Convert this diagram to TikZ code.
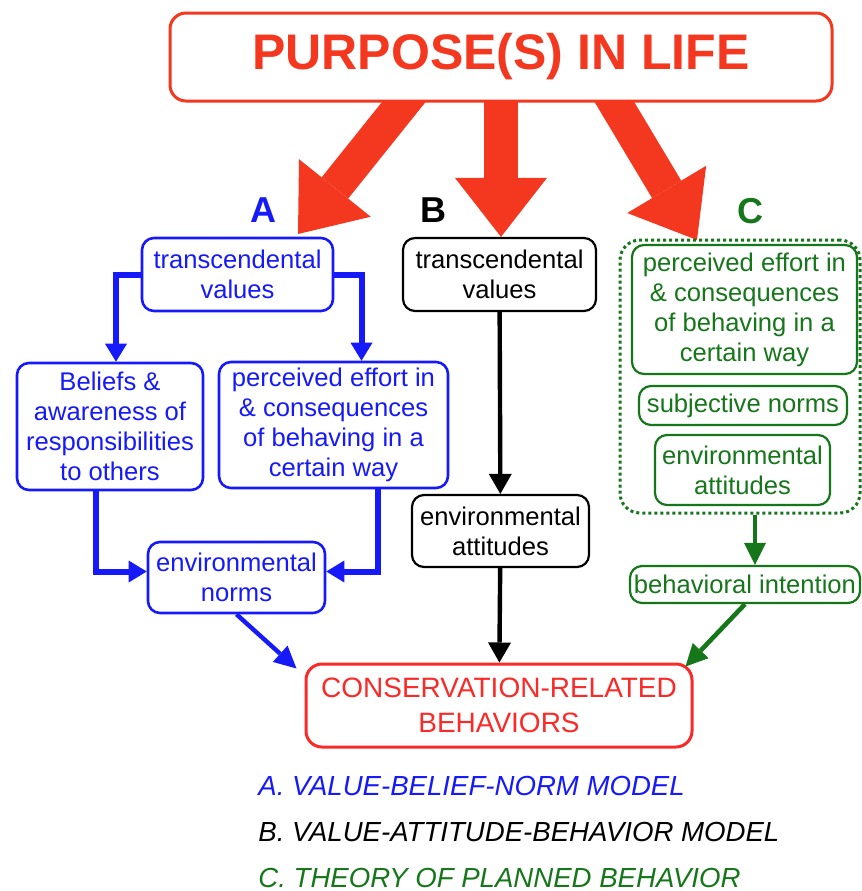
\documentclass[tikz,border=0pt]{standalone}
\usepackage{fontspec}
\setmainfont{Liberation Sans}
\usetikzlibrary{arrows.meta,positioning,backgrounds}
\definecolor{purposered}{RGB}{244,56,32}
\definecolor{consred}{RGB}{250,42,40}
\definecolor{vbnblue}{RGB}{22,26,248}
\definecolor{tpbgreen}{RGB}{22,118,26}

\begin{document}
\begin{tikzpicture}[x=0.5pt,y=-0.5pt,
  box node/.style={rectangle,rounded corners=6pt,draw,fill=white,align=center,inner sep=2pt,font=\fontsize{12.8}{15}\selectfont},
  blue node/.style={box node,draw=vbnblue,text=vbnblue,line width=1.3pt},
  black node/.style={box node,draw=black,text=black,line width=1.1pt},
  green node/.style={box node,draw=tpbgreen,text=tpbgreen,line width=1.1pt},
  red node/.style={box node,draw=consred,text=consred,line width=1.5pt,rounded corners=8pt,font=\fontsize{14}{17.5}\selectfont},
  letter node/.style={inner sep=0pt,font=\fontsize{18}{18}\selectfont\bfseries},
  key node/.style={anchor=west,inner sep=0pt,font=\fontsize{13.8}{14}\selectfont\itshape},
  big arrow/.style={purposered,line width=17pt,-{Triangle[width=46pt,length=29.5pt,line width=0pt]}},
  blue arrow/.style={vbnblue,line width=3pt,-{Triangle[width=11pt,length=9pt,line width=0pt]}},
  thin blue arrow/.style={vbnblue,line width=2.2pt,-{Triangle[width=11pt,length=11pt,line width=0pt]}},
  black arrow/.style={black,line width=2.2pt,-{Triangle[width=11.5pt,length=10pt,line width=0pt]}},
  green arrow/.style={tpbgreen,line width=2.3pt,-{Triangle[width=11pt,length=11pt,line width=0pt]}}]

  \useasboundingbox (0,0) rectangle (862,891);

  % top
  \node[red node,draw=purposered,text=purposered,minimum width=331pt,minimum height=44pt,
        font=\fontsize{25}{25}\selectfont\bfseries] (title) at (501,57) {PURPOSE(S) IN LIFE};
  \node[letter node,text=vbnblue] (la) at (263,210) {A};
  \node[letter node] (lb) at (433,210) {B};
  \node[letter node,text=tpbgreen] (lc) at (750,211) {C};

  % A: value-belief-norm
  \node[blue node,minimum width=95.5pt,minimum height=36.5pt] (ta) at (237.5,274.5) {transcendental\\values};
  \node[blue node,minimum width=93pt,minimum height=63.5pt] (bel) at (110,426.5) {Beliefs \&\\awareness of\\responsibilities\\to others};
  \node[blue node,minimum width=114.5pt,minimum height=63pt] (perA) at (333.5,425) {perceived effort in\\\& consequences\\of behaving in a\\certain way};
  \node[blue node,minimum width=88.5pt,minimum height=35.5pt] (norms) at (236.5,577.5) {environmental\\norms};

  % B: value-attitude-behavior
  \node[black node,minimum width=96.5pt,minimum height=36.5pt] (tb) at (499.5,274.5) {transcendental\\values};
  \node[black node,minimum width=88.5pt,minimum height=36pt] (eab) at (500.5,531) {environmental\\attitudes};

  % C: planned behavior
  \node[rectangle,rounded corners=10pt,draw=tpbgreen,line width=1.5pt,dash pattern=on 1.5pt off 1.5pt,
        minimum width=120pt,minimum height=136.5pt] (cbox) at (740,376.5) {};
  \node[green node,minimum width=112.5pt,minimum height=64.5pt] (perC) at (744.5,309.5) {perceived effort in\\\& consequences\\of behaving in a\\certain way};
  \node[green node,minimum width=104pt,minimum height=19.5pt,inner sep=1pt] (sub) at (743,405.5) {subjective norms};
  \node[green node,minimum width=87.5pt,minimum height=35pt] (eac) at (742.5,470) {environmental\\attitudes};
  \node[green node,minimum width=115pt,minimum height=18.5pt,inner sep=1pt] (bi) at (745,584.5) {behavioral intention};

  \node[red node,minimum width=193pt,minimum height=41.5pt] (cons) at (499,705.5) {CONSERVATION-RELATED\\BEHAVIORS};

  % key
  \node[key node,text=vbnblue] (keya) at (258,786) {A. VALUE-BELIEF-NORM MODEL};
  \node[key node,below=23pt of keya.west,anchor=west] (keyb) {B. VALUE-ATTITUDE-BEHAVIOR MODEL};
  \node[key node,below=23pt of keyb.west,anchor=west,text=tpbgreen] (keyc) {C. THEORY OF PLANNED BEHAVIOR};

  \coordinate (srcA) at (415,88);
  \coordinate (srcB) at (501,88);
  \coordinate (srcC) at (606,88);
  \coordinate (hitA) at (298,234);
  \coordinate (hitC) at (697,240);

  \begin{scope}[on background layer]
    \draw[big arrow] (srcA) -- (hitA);
    \draw[big arrow] (srcB) -- (srcB |- tb.north);
    \draw[big arrow] (srcC) -- (hitC);
  \end{scope}

  \draw[blue arrow] (ta.west) -| ([xshift=3pt]bel.north);
  \draw[blue arrow] (ta.east) -| ([xshift=14pt]perA.north);
  \draw[blue arrow] ([xshift=-7pt]bel.south) |- ([yshift=3pt]norms.west);
  \draw[blue arrow] ([xshift=22pt]perA.south) |- ([yshift=3pt]norms.east);
  \path
    (norms.south) edge[thin blue arrow] ([xshift=-4pt,yshift=-3pt]cons.north west)
    (tb) edge[black arrow] (eab)
    (eab) edge[black arrow] (cons)
    ([xshift=7.5pt]cbox.south) edge[green arrow] ([xshift=5pt]bi.north)
    (bi.south) edge[green arrow] ([xshift=-4pt,yshift=-2pt]cons.north east);

\end{tikzpicture}
\end{document}
